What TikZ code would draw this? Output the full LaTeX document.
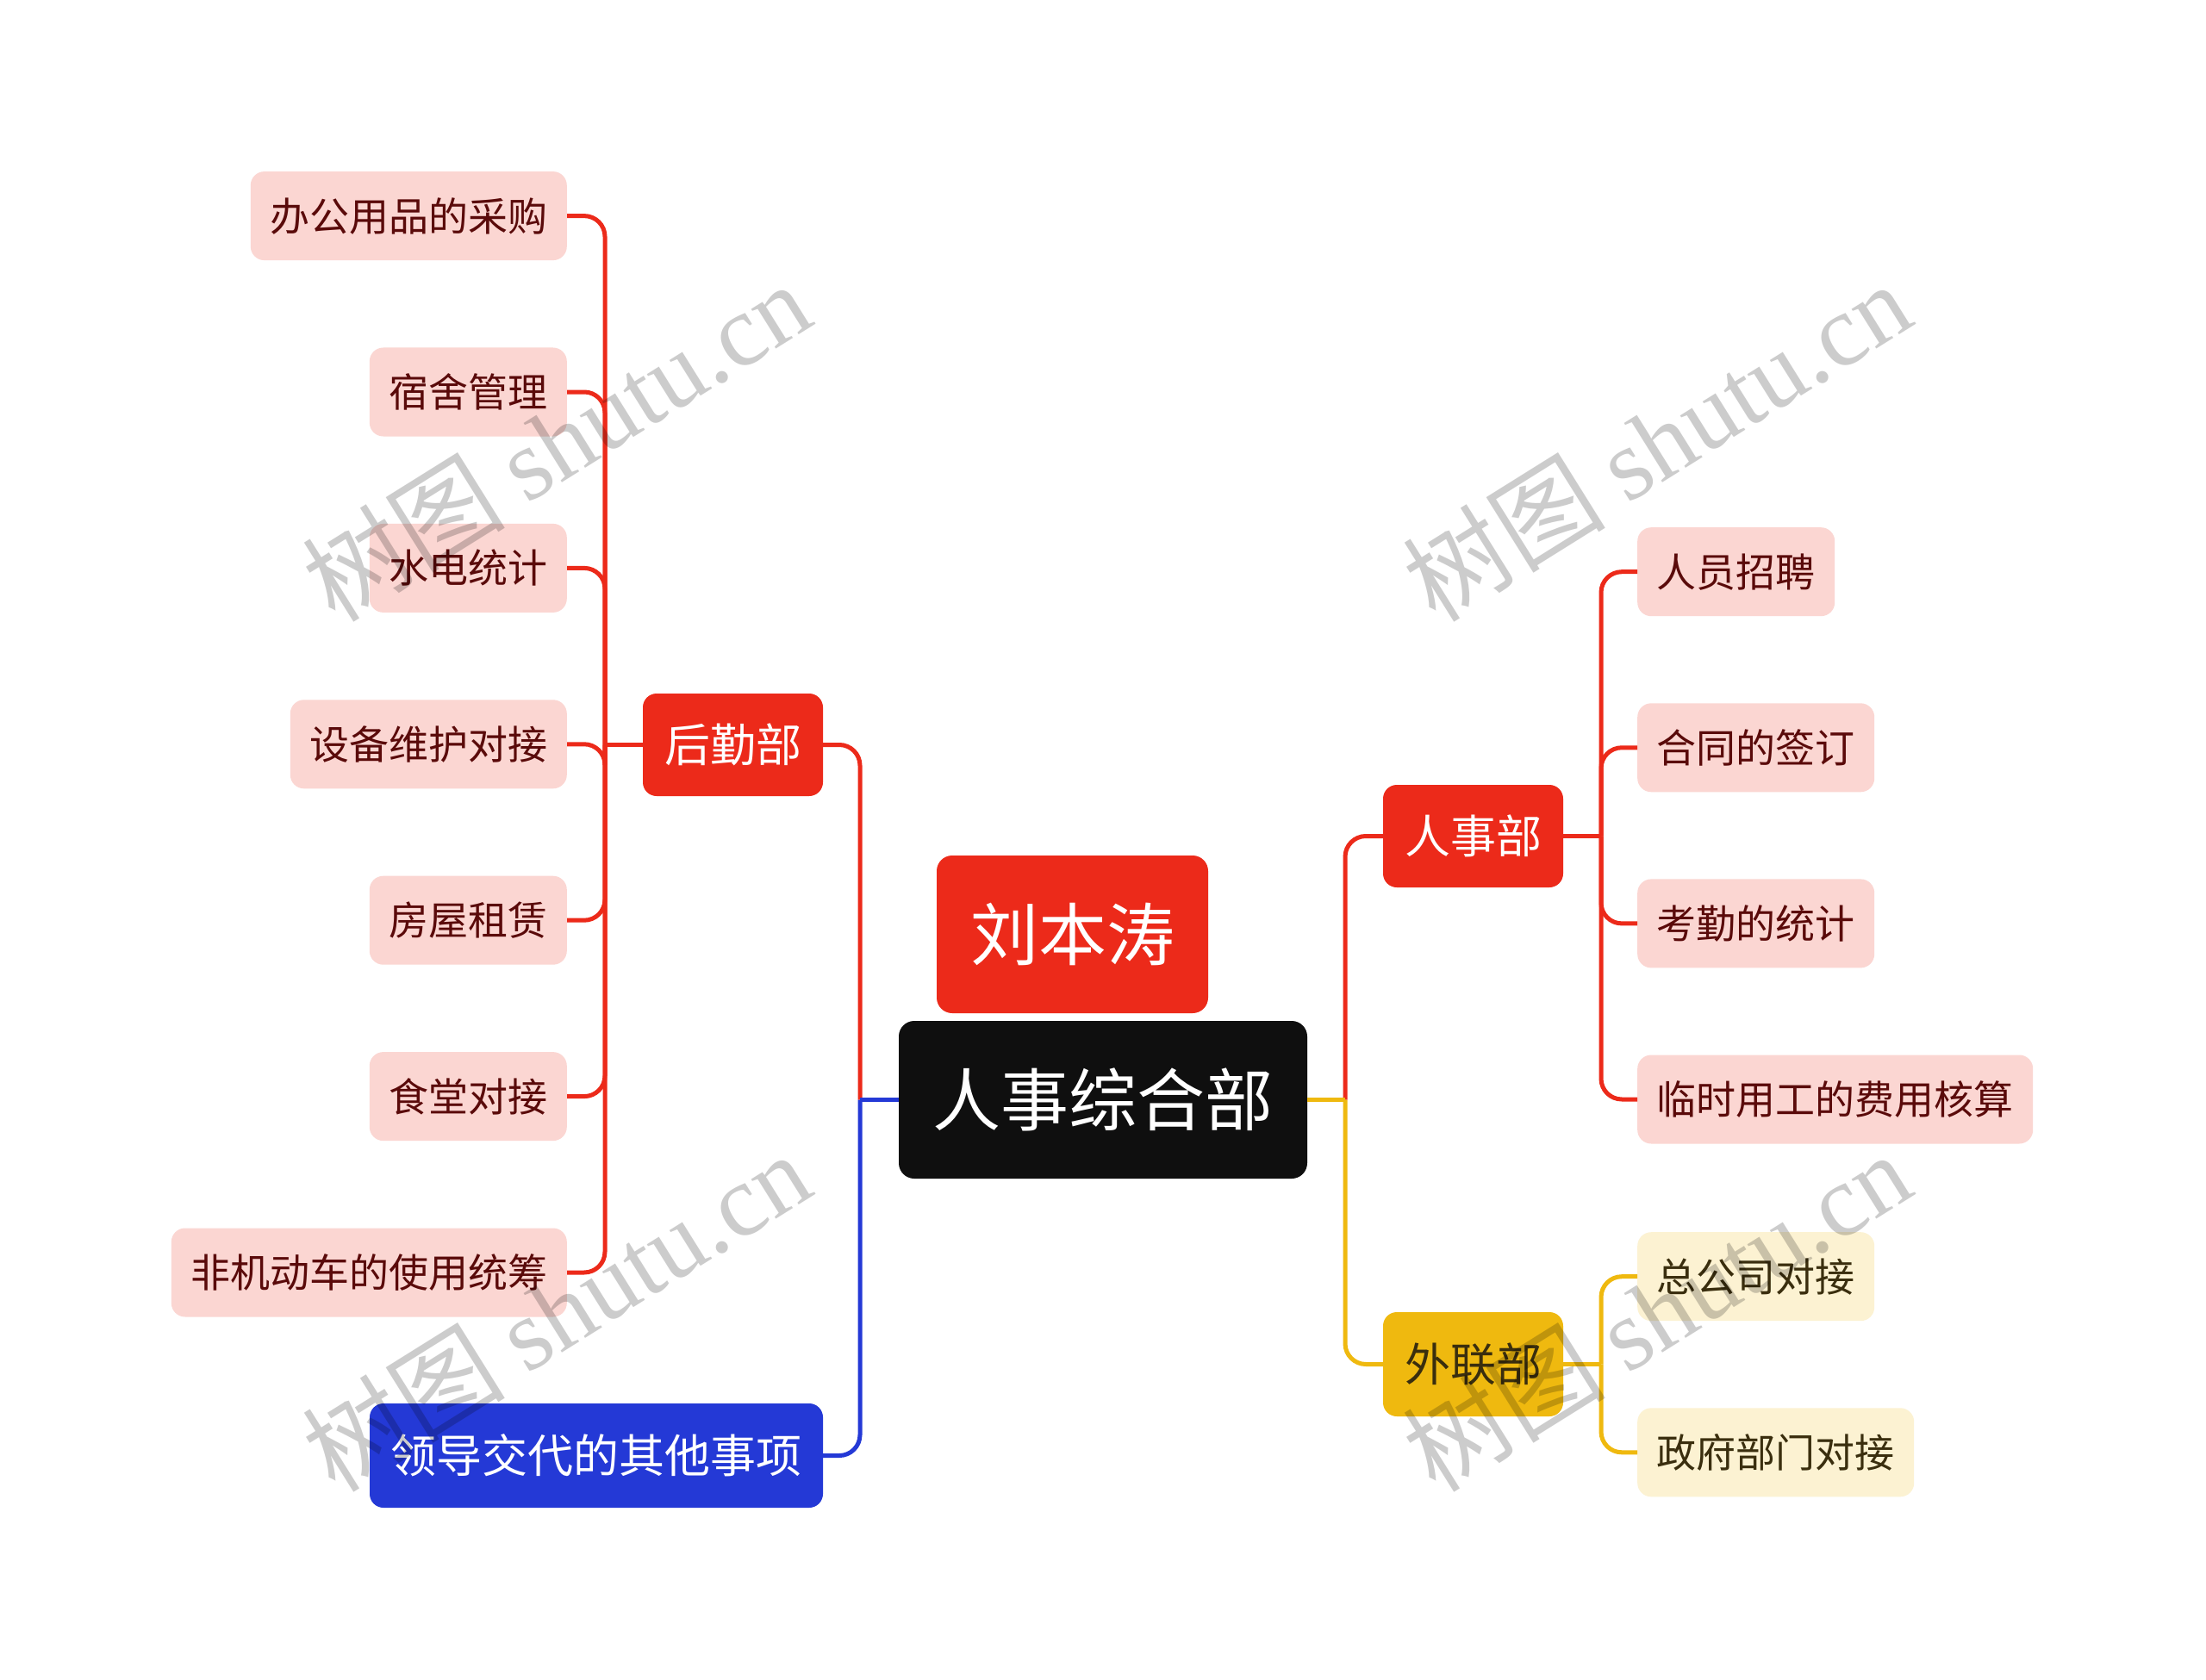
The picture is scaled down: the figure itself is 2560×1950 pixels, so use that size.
\documentclass[tikz,border=0pt]{standalone}
\usepackage{fontspec}
\setmainfont{Noto Sans CJK SC}
\newfontfamily\wmlat{Liberation Serif}
\usetikzlibrary{calc}
\definecolor{cred}{HTML}{EC2A1A}
\definecolor{cpink}{HTML}{FBD6D2}
\definecolor{cpinktxt}{HTML}{5A0A0A}
\definecolor{cblue}{HTML}{2439D6}
\definecolor{cyel}{HTML}{EFB90F}
\definecolor{cyelfill}{HTML}{FCF2D2}
\definecolor{cyeltxt}{HTML}{3A2E0E}
\definecolor{cblack}{HTML}{0F0F0F}
\begin{document}
\begin{tikzpicture}[x=1pt,y=-1pt,
  leaf/.style={fill=cpink, text=cpinktxt, rounded corners=16pt,
    font=\fontsize{46}{46}\selectfont, inner xsep=22.5pt, inner ysep=0pt,
    minimum height=103pt, text height=35pt, text depth=0pt},
  leafL/.style={leaf, anchor=east},
  leafR/.style={leaf, anchor=west},
  yleaf/.style={leafR, fill=cyelfill, text=cyeltxt},
  branch/.style={rounded corners=16pt, inner sep=0pt,
    font=\fontsize{53}{53}\selectfont, text height=40pt, text depth=0pt},
  bigbox/.style={rounded corners=18pt, inner sep=0pt,
    font=\fontsize{79}{79}\selectfont, text height=60pt, text depth=0pt, text=white},
  conn/.style={line width=5pt},
  hook/.style={conn, rounded corners=24pt},
  wm/.style={text=black, opacity=0.2, rotate=32, font=\fontsize{118}{118}\selectfont}
]
\useasboundingbox[fill=white] (0,0) rectangle (2560,1950);

% central nodes
\node[bigbox, fill=cblack, minimum width=474pt, minimum height=183pt] (root) at (1280,1276.5) {人事综合部};
\node[bigbox, fill=cred, minimum width=315pt, minimum height=183pt] (name) at (1244.5,1084.5) {刘本涛};

% branches
\node[branch, fill=cred, text=white, minimum width=209pt, minimum height=119pt] (hq) at (850.5,864.5) {后勤部};
\node[branch, fill=cblue, text=white, minimum width=526pt, minimum height=121pt] (lead) at (692,1689.5) {领导交代的其他事项};
\node[branch, fill=cred, text=white, minimum width=209pt, minimum height=119pt] (hr) at (1709.5,970.5) {人事部};
\node[branch, fill=cyel, text=cyeltxt, minimum width=209pt, minimum height=121pt] (wl) at (1709.5,1583.5) {外联部};

% left leaves
\node[leafL] (l1) at (658,250.6) {办公用品的采购};
\node[leafL] (l2) at (658,455) {宿舍管理};
\node[leafL] (l3) at (658,659.4) {水电统计};
\node[leafL] (l4) at (658,863.8) {设备维护对接};
\node[leafL] (l5) at (658,1068.2) {房屋租赁};
\node[leafL] (l6) at (658,1272.6) {食堂对接};
\node[leafL] (l7) at (658,1477) {非机动车的使用统筹};

% right leaves
\node[leafR] (r1) at (1900,663.7) {人员招聘};
\node[leafR] (r2) at (1900,867.8) {合同的签订};
\node[leafR] (r3) at (1900,1071.9) {考勤的统计};
\node[leafR] (r4) at (1900,1276) {临时用工的费用核算};
\node[yleaf] (r5) at (1900,1481.7) {总公司对接};
\node[yleaf] (r6) at (1900,1685.8) {政府部门对接};

% junctions
\coordinate (cl) at (998,1276.5);
\coordinate (cr) at (1561,1276.5);
\coordinate (hqj) at (702,864.5);
\coordinate (hrj) at (1858,970.5);
\coordinate (wlj) at (1858,1583.5);

% trunk connectors
\draw[hook, cred] (cl) |- (hq.east);
\draw[conn, cblue] (root.west) -- (cl);
\draw[hook, cblue] (cl) |- (lead.east);
\draw[hook, cred] (cr) |- (hr.west);
\draw[hook, cyel] (cr) |- (wl.west);
\draw[conn, cyel] (root.east) -- (cr);

% left leaves connectors
\draw[conn, cred] (hq.west) -- (hqj);
\foreach \n in {l1,l2,l3,l4,l5,l6,l7} {\draw[hook, cred] (hqj) |- (\n.east);}

% right leaves connectors
\draw[conn, cred] (hr.east) -- (hrj);
\foreach \n in {r1,r2,r3,r4} {\draw[hook, cred] (hrj) |- (\n.west);}
\draw[conn, cyel] (wl.east) -- (wlj);
\foreach \n in {r5,r6} {\draw[hook, cyel] (wlj) |- (\n.west);}

% watermarks
\node[wm] (wm1) at (645,512) {树图 {\wmlat shutu.cn}};
\node[wm] (wm2) at (1922,512) {树图 {\wmlat shutu.cn}};
\node[wm] (wm3) at (645,1522) {树图 {\wmlat shutu.cn}};
\node[wm] (wm4) at (1922,1522) {树图 {\wmlat shutu.cn}};
\end{tikzpicture}
\end{document}
